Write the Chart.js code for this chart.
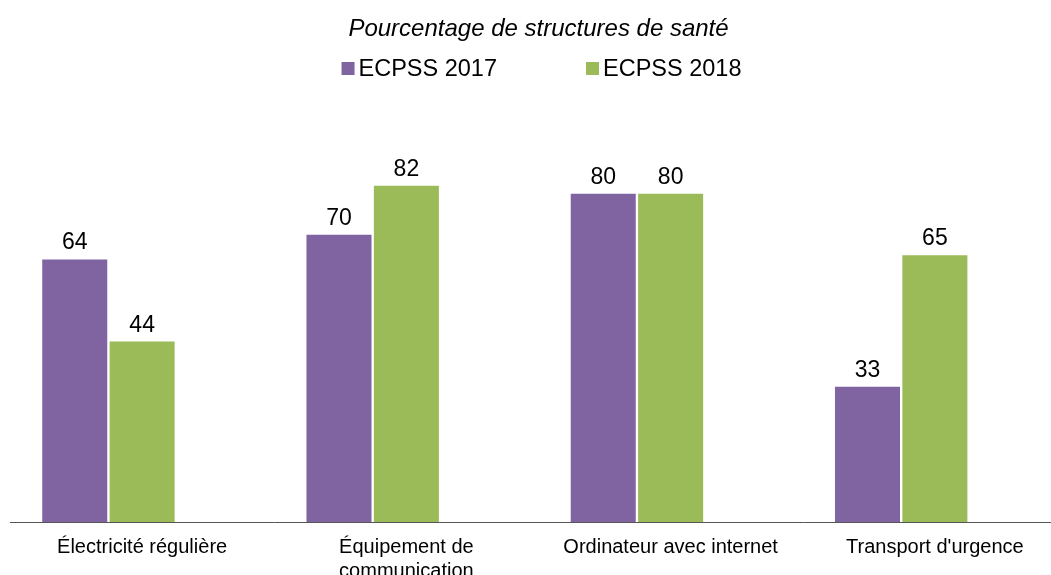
<!DOCTYPE html>
<html lang="fr">
<head>
<meta charset="utf-8">
<title>Pourcentage de structures de santé</title>
<script src="https://cdn.jsdelivr.net/npm/chart.js@4.4.1/dist/chart.umd.min.js"></script>
<style>
  html, body { margin: 0; padding: 0; background: #fff; overflow: hidden; }
  /* un peu plus large que la fenêtre : l'axe de l'original déborde à droite */
  #wrap { width: 1067px; height: 575px; position: relative; }
</style>
</head>
<body>
<div id="wrap"><canvas id="chart"></canvas></div>
<script>
// Données du graphique
const categories = ['Électricité régulière', ['Équipement de', 'communication'], 'Ordinateur avec internet', "Transport d'urgence"];
const seriesNames = ['ECPSS 2017', 'ECPSS 2018'];
const values2017 = [64, 70, 80, 33];
const values2018 = [44, 82, 80, 65];
const emptySeries = [null, null, null, null]; // 3e série vide (décale les barres comme dans l'original)
const seriesColors = ['#8064A2', '#9BBB59'];
const titleText = 'Pourcentage de structures de santé';

const FONT = '"Liberation Sans", Arial, sans-serif';

// Etiquettes de valeur au-dessus des barres
const valueLabels = {
    id: 'valueLabels',
    afterDatasetsDraw(chart) {
        const ctx = chart.ctx;
        ctx.save();
        ctx.font = '23px ' + FONT;
        ctx.fillStyle = '#000';
        ctx.textAlign = 'center';
        ctx.textBaseline = 'alphabetic';
        chart.data.datasets.forEach((ds, i) => {
            if (ds.isEmpty) return;
            const meta = chart.getDatasetMeta(i);
            meta.data.forEach((bar, j) => {
                const v = ds.data[j];
                if (v === null) return;
                ctx.fillText(String(v), bar.x, bar.y - 10);
            });
        });
        ctx.restore();
    }
};

// Légende dessinée à la main (grand écart entre les deux entrées)
const customLegend = {
    id: 'customLegend',
    afterDraw(chart) {
        const ctx = chart.ctx;
        ctx.save();
        ctx.font = '23.5px ' + FONT;
        ctx.textBaseline = 'alphabetic';
        ctx.textAlign = 'left';
        const box = 13, gapText = 4, gapItems = 89;
        const items = chart.data.datasets.filter(ds => !ds.isEmpty);
        let total = 0;
        items.forEach((ds, i) => {
            total += box + gapText + ctx.measureText(ds.label).width;
            if (i < items.length - 1) total += gapItems;
        });
        let x = chart.width / 2 + 8 - total / 2;
        const baseline = 76;
        items.forEach(ds => {
            ctx.fillStyle = ds.backgroundColor;
            ctx.fillRect(x, baseline - 14, box, box);
            x += box + gapText;
            ctx.fillStyle = '#000';
            ctx.fillText(ds.label, x, baseline);
            x += ctx.measureText(ds.label).width + gapItems;
        });
        ctx.restore();
    }
};

const ctx = document.getElementById('chart').getContext('2d');
new Chart(ctx, {
    type: 'bar',
    data: {
        labels: categories,
        datasets: [
            { label: seriesNames[0], data: values2017, backgroundColor: seriesColors[0] },
            { label: seriesNames[1], data: values2018, backgroundColor: seriesColors[1] },
            { label: '', data: emptySeries, backgroundColor: 'rgba(0,0,0,0)', isEmpty: true }
        ]
    },
    options: {
        responsive: true,
        maintainAspectRatio: false,
        animation: false,
        datasets: {
            bar: { categoryPercentage: 0.765, barPercentage: 0.965, borderWidth: 0 }
        },
        layout: { padding: { left: 10, right: 0, top: 0, bottom: 0 } },
        plugins: {
            legend: { display: false },
            tooltip: { enabled: false },
            title: {
                display: true,
                text: titleText,
                color: '#000',
                font: { family: FONT, size: 24, style: 'italic', weight: 'normal', lineHeight: 1.2 },
                padding: { top: 15, bottom: 68 }
            }
        },
        scales: {
            x: {
                grid: { display: false },
                border: { display: true, color: '#555', width: 1 },
                ticks: {
                    color: '#000',
                    padding: 5,
                    maxRotation: 0,
                    autoSkip: false,
                    font: { family: FONT, size: 20, lineHeight: 1.2 }
                },
                afterFit(scale) { scale.height = 53; }
            },
            y: {
                display: false,
                min: 0,
                max: 100
            }
        }
    },
    plugins: [valueLabels, customLegend]
});
</script>
</body>
</html>
